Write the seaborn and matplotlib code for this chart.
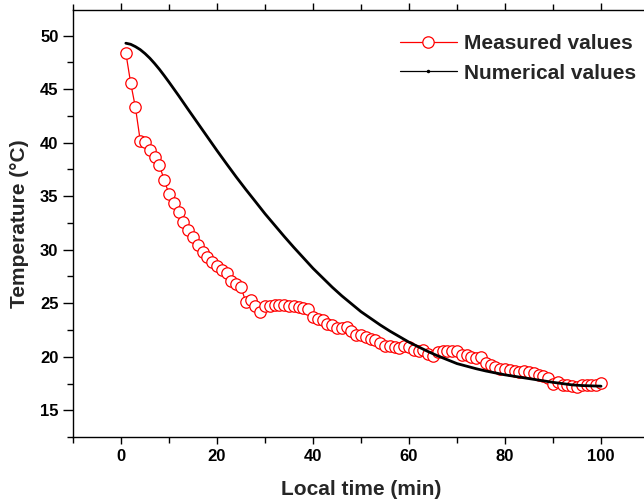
import matplotlib
matplotlib.use("Agg")
import matplotlib.pyplot as plt
from matplotlib.lines import Line2D
from matplotlib.ticker import MultipleLocator
import seaborn as sns

# measured temperature, one reading per minute
measured_time = list(range(1, 101))
measured_temp = [
    48.4, 45.6, 43.3, 40.2, 40.1, 39.3, 38.7, 37.9, 36.5, 35.2,
    34.4, 33.5, 32.6, 31.8, 31.2, 30.4, 29.8, 29.3, 28.9, 28.5,
    28.1, 27.8, 27.1, 26.8, 26.5, 25.1, 25.3, 24.7, 24.2, 24.7,
    24.75, 24.8, 24.8, 24.8, 24.75, 24.7, 24.65, 24.6, 24.5, 23.7,
    23.5, 23.4, 23.1, 22.95, 22.65, 22.65, 22.75, 22.4, 22.0, 22.0,
    21.8, 21.7, 21.55, 21.25, 21.0, 21.0, 20.9, 20.8, 21.0, 20.9,
    20.6, 20.5, 20.6, 20.3, 20.1, 20.4, 20.5, 20.55, 20.55, 20.5,
    20.15, 20.15, 19.95, 19.85, 20.0, 19.4, 19.2, 19.0, 18.9, 18.9,
    18.8, 18.7, 18.6, 18.7, 18.6, 18.45, 18.3, 18.2, 18.0, 17.5,
    17.65, 17.35, 17.4, 17.3, 17.15, 17.35, 17.4, 17.35, 17.4, 17.55,
]

# simulated temperature
numerical_time = [1, 2, 3, 4, 5, 6, 7, 8, 9, 10, 12, 14, 16, 18, 20, 22, 24, 26,
                  28, 30, 32, 34, 36, 38, 40, 42, 44, 46, 48, 50, 52, 54, 56, 58,
                  60, 62, 64, 66, 68, 70, 72, 74, 76, 78, 80, 82, 84, 86, 88, 90,
                  92, 94, 96, 98, 100]
numerical_temp = [49.3, 49.2, 48.98, 48.7, 48.33, 47.9, 47.4, 46.86, 46.27, 45.66,
                  44.4, 43.1, 41.82, 40.54, 39.26, 38.02, 36.8, 35.63, 34.5, 33.36,
                  32.3, 31.24, 30.22, 29.24, 28.26, 27.38, 26.5, 25.69, 24.95, 24.21,
                  23.59, 22.97, 22.4, 21.88, 21.36, 20.92, 20.48, 20.08, 19.72, 19.36,
                  19.12, 18.88, 18.67, 18.49, 18.31, 18.17, 18.03, 17.89, 17.75, 17.61,
                  17.49, 17.37, 17.31, 17.28, 17.25]

sns.set_style("ticks")
plt.rcParams['font.family'] = ['Liberation Sans', 'DejaVu Sans']
plt.rcParams['font.weight'] = 'bold'

fig = plt.figure(figsize=(6.44, 5.04), dpi=100)
ax = fig.add_axes([0.1134, 0.1329, 0.8944, 0.8472])

sns.lineplot(x=measured_time, y=measured_temp, ax=ax, color='red', linewidth=0.9,
             marker='o', markersize=8.2, markerfacecolor='white',
             markeredgecolor='red', markeredgewidth=0.9, estimator=None, sort=False)
sns.lineplot(x=numerical_time, y=numerical_temp, ax=ax, color='black', linewidth=2.0,
             estimator=None, sort=False)

ax.set_xlim(-10, 110)
ax.set_ylim(12.5, 52.4)
ax.xaxis.set_major_locator(MultipleLocator(20))
ax.xaxis.set_minor_locator(MultipleLocator(10))
ax.yaxis.set_major_locator(MultipleLocator(5))
ax.yaxis.set_minor_locator(MultipleLocator(2.5))
ax.set_yticks([15, 20, 25, 30, 35, 40, 45, 50])
ax.tick_params(which='both', direction='out', width=1.0, top=True, colors='black')
ax.tick_params(which='major', length=5, labelsize=12)
ax.tick_params(which='minor', length=4)
ax.tick_params(axis='y', which='major', length=7)
for lab in ax.get_xticklabels() + ax.get_yticklabels():
    lab.set_fontweight('bold')
for sp in ax.spines.values():
    sp.set_linewidth(1.0)
    sp.set_color('black')

ax.set_xlabel('Local time (min)', fontsize=15, fontweight='bold', labelpad=12)
ax.set_ylabel('Temperature (°C)', fontsize=15, fontweight='bold', labelpad=8)

handles = [
    Line2D([], [], color='red', linewidth=0.9, marker='o', markersize=8.2,
           markerfacecolor='white', markeredgecolor='red', markeredgewidth=0.9),
    Line2D([], [], color='black', linewidth=0.9, marker='.', markersize=3),
]
ax.legend(handles, ['Measured values', 'Numerical values'], loc='upper right',
          bbox_to_anchor=(1.017, 0.969), bbox_transform=fig.transFigure,
          frameon=False, prop={'weight': 'bold', 'size': 15},
          handlelength=2.75, handletextpad=0.34, labelspacing=0.5)

fig.savefig('out.png', dpi=100)
